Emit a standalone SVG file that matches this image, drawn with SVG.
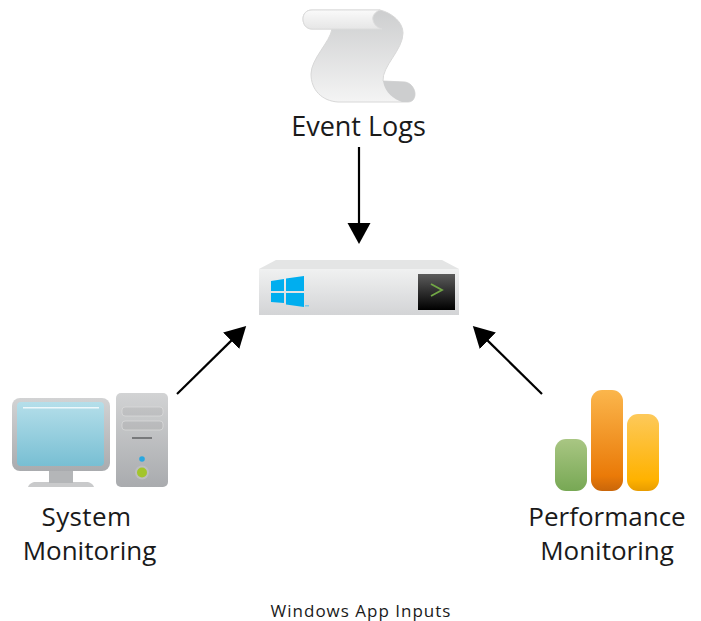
<svg xmlns="http://www.w3.org/2000/svg" width="701" height="621" viewBox="0 0 701 621">
<style>
text{font-family:"Open Sans","Liberation Sans",sans-serif;fill:#1a1a1a;text-anchor:middle}
.l{font-size:26px}
.c{font-size:17px;letter-spacing:1px}
.a{stroke:#000;stroke-width:2.2;fill:none;marker-end:url(#ah)}
.bay{fill:#000;fill-opacity:.05;stroke:#dcdddd;stroke-width:.7}
</style>
<defs>
<marker id="ah" markerUnits="userSpaceOnUse" markerWidth="24" markerHeight="24" refX="2" refY="12" orient="auto"><path d="M0 0.500 L21 12 L0 23.500 Z" fill="#000"/></marker>
<linearGradient id="scroll" x1="0" y1="0" x2="0" y2="1"><stop offset="0" stop-color="#cdcecf"/><stop offset="1" stop-color="#f4f4f4"/></linearGradient>
<linearGradient id="roll" x1="0" y1="0" x2="0" y2="1"><stop offset="0" stop-color="#fafafa"/><stop offset="1" stop-color="#e6e6e6"/></linearGradient>
<linearGradient id="box" x1="0" y1="0" x2="0" y2="1"><stop offset="0" stop-color="#f0f1f1"/><stop offset="1" stop-color="#d3d4d6"/></linearGradient>
<linearGradient id="term" x1="0" y1="0" x2="0" y2="1"><stop offset="0" stop-color="#5c5c5c"/><stop offset="1" stop-color="#000"/></linearGradient>
<linearGradient id="screen" x1="0" y1="0" x2="0" y2="1"><stop offset="0" stop-color="#b5dfea"/><stop offset="1" stop-color="#78bfd3"/></linearGradient>
<linearGradient id="metal" x1="0" y1="0" x2="0" y2="1"><stop offset="0" stop-color="#d2d3d4"/><stop offset="1" stop-color="#a9abae"/></linearGradient>
<linearGradient id="g" x1="0" y1="0" x2="0" y2="1"><stop offset="0" stop-color="#a9c683"/><stop offset="1" stop-color="#77a854"/></linearGradient>
<linearGradient id="o" x1="0" y1="0" x2="0" y2="1"><stop offset="0" stop-color="#fbb64c"/><stop offset=".85" stop-color="#ea7a08"/><stop offset="1" stop-color="#c9660a"/></linearGradient>
<linearGradient id="y" x1="0" y1="0" x2="0" y2="1"><stop offset="0" stop-color="#fdc95a"/><stop offset=".85" stop-color="#ffb200"/><stop offset="1" stop-color="#e89c00"/></linearGradient>
</defs>
<g id="connectors">
<line class="a" x1="359" y1="147" x2="359" y2="225"/>
<line class="a" x1="177" y1="394" x2="232.600" y2="339.400"/>
<line class="a" x1="542" y1="394" x2="486.400" y2="339.400"/>
</g>
<g id="event-logs">
<path d="M380 10 C392 13 403 22 403 33 C403 50 382 66 383 81 L405 82 C412 83 415 90 415 94 C415 99 412 102 408 102 L338 102 C322 101 311 90 311 74 C311 59 330 42 332 29 L312 29 C306 29 303 24 303 19 C303 14 306 10 312 10 Z" fill="url(#scroll)" stroke="#d8d8d8"/>
<path d="M312 10 L380 10 C375 12 372 16 373 20 C374 25 378 28 382 29 L312 29 C306 29 303 24 303 19 C303 14 306 10 312 10 Z" fill="url(#roll)" stroke="#dcdcdc"/>
<path d="M383 81 L405 82 C412 83 415 90 415 94 C415 99 412 102 408 102 L402 102 C394 99 385 93 383 81 Z" fill="#cdcecf"/>
<text class="l" style="font-size:27px" x="358.500" y="136">Event Logs</text>
</g>
<g id="windows-host">
<path d="M259 269 L276 260 L442 260 L459 269 Z" fill="#e4e5e5"/>
<rect x="259" y="269" width="200" height="46" fill="url(#box)"/>
<rect x="418" y="274" width="37" height="36" fill="url(#term)"/>
<path d="M431 284 L442 290 L431 296" fill="none" stroke="#72a845" stroke-width="1.800"/>
<path d="M271 281 L284 279 L284 291 L271 291 Z M286 278.500 L304 276 L304 291 L286 291 Z M271 293 L284 293 L284 303 L271 302 Z M286 293 L304 293 L304 307 L286 304.500 Z" fill="#00aeef"/>
<rect x="305" y="305" width="4" height="1.500" fill="#7cc8e8"/>
</g>
<g id="system-monitoring">
<path d="M28 487 C29 484 32 482 36 482 L86 482 C90 482 93 484 94 487 Z" fill="#c9cacb"/>
<rect x="49" y="470" width="24" height="13" fill="#b4b6b8"/>
<rect x="12" y="398" width="98" height="73" rx="8" fill="url(#metal)"/>
<rect x="17" y="402" width="87" height="64" rx="4" fill="url(#screen)"/>
<rect x="23" y="407" width="76" height="1.500" fill="#eef8fb"/>
<rect x="116" y="393" width="52" height="94" rx="5" fill="url(#metal)"/>
<rect class="bay" x="122" y="407" width="41" height="9" rx="3"/>
<rect class="bay" x="122" y="421" width="41" height="9" rx="3"/>
<rect x="132" y="437" width="20" height="2" fill="#77797b"/>
<circle cx="142" cy="459" r="2.800" fill="#2aa7df"/>
<circle cx="142" cy="472.500" r="7" fill="#bdbec0"/>
<circle cx="142" cy="472.500" r="5" fill="#a3c52c"/>
<text class="l" style="letter-spacing:.4px" x="86.500" y="526">System</text>
<text class="l" x="89.500" y="560">Monitoring</text>
</g>
<g id="performance-monitoring">
<rect x="555" y="439" width="32" height="52" rx="11" fill="url(#g)"/>
<rect x="591" y="390" width="32" height="101" rx="11" fill="url(#o)"/>
<rect x="627" y="414" width="32" height="77" rx="11" fill="url(#y)"/>
<text class="l" x="607" y="526">Performance</text>
<text class="l" x="607" y="560">Monitoring</text>
</g>
<text class="c" x="361" y="617">Windows App Inputs</text>
</svg>
